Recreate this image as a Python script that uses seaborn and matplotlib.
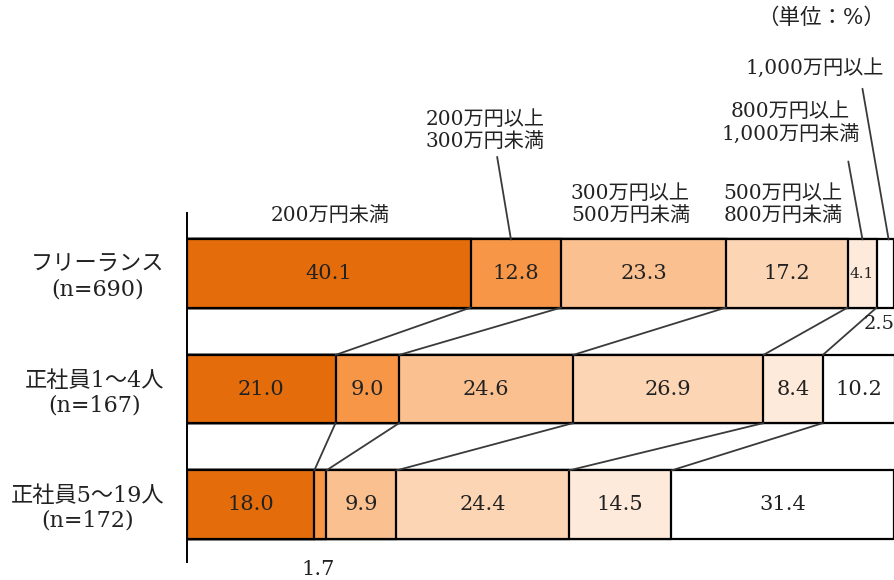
import numpy as np
import pandas as pd
import matplotlib
matplotlib.use("Agg")
import matplotlib.pyplot as plt
import seaborn as sns

sns.set_theme(style="white")
plt.rcParams["font.family"] = ["DejaVu Serif", "Noto Sans CJK JP", "DejaVu Sans"]

groups = ["フリーランス\n(n=690)", "正社員1～4人\n(n=167)", "正社員5～19人\n(n=172)"]
brackets = ["200万円未満", "200万円以上\n300万円未満", "300万円以上\n500万円未満",
            "500万円以上\n800万円未満", "800万円以上\n1,000万円未満", "1,000万円以上"]
freelance = [40.1, 12.8, 23.3, 17.2, 4.1, 2.5]
staff_1_4 = [21.0, 9.0, 24.6, 26.9, 8.4, 10.2]
staff_5_19 = [18.0, 1.7, 9.9, 24.4, 14.5, 31.4]
colors = ["#E46C0A", "#F79646", "#FAC090", "#FCD5B5", "#FDEADA", "#FFFFFF"]

values = np.array([freelance, staff_1_4, staff_5_19])
cum = values.cumsum(axis=1)

fig = plt.figure(figsize=(8.95, 5.8), dpi=100)
ax = fig.add_axes([187 / 895, 18 / 580, 708 / 895, 349 / 580])

BAR_W = 0.59
TXT = "#222222"
# stacked bars: draw cumulative totals from the widest down
for i in range(len(brackets) - 1, -1, -1):
    df = pd.DataFrame({"group": groups, "value": cum[:, i]})
    sns.barplot(data=df, x="value", y="group", orient="h", color=colors[i],
                saturation=1, width=BAR_W, edgecolor="black", linewidth=1.6,
                errorbar=None, ax=ax)

ax.set_xlim(0, 100.1)
ax.set_ylim(2.498, -0.524)
for s in ["top", "right", "bottom"]:
    ax.spines[s].set_visible(False)
ax.spines["left"].set_color("black")
ax.spines["left"].set_linewidth(1.4)
ax.set_xticks([])
ax.set_xlabel("")
ax.set_ylabel("")
ax.tick_params(axis="y", length=0, pad=16, labelsize=16)
for lab in ax.get_yticklabels():
    lab.set_multialignment("center")
    lab.set_linespacing(1.15)
    lab.set_color(TXT)

# connector lines between neighbouring bars
for r in range(len(groups) - 1):
    for i in range(len(brackets) - 1):
        ax.plot([cum[r, i], cum[r + 1, i]], [r + BAR_W / 2, r + 1 - BAR_W / 2],
                color="#3a3a3a", lw=1.3, zorder=1, clip_on=False)

# value labels
for r in range(len(groups)):
    for i in range(len(brackets)):
        v = values[r, i]
        x = cum[r, i] - v / 2
        if r == 0 and i == 5:
            # too narrow: label sits just below the bar's right end
            ax.text(cum[r, i], r + BAR_W / 2 + 0.14, f"{v:.1f}", ha="right", va="center",
                    fontsize=14, color=TXT, clip_on=False)
        elif r == 2 and i == 1:
            ax.text(x - 0.3, r + BAR_W / 2 + 0.27, f"{v:.1f}", ha="center", va="center",
                    fontsize=15, color=TXT, clip_on=False)
        elif v < 5:
            ax.text(x, r, f"{v:.1f}", ha="center", va="center",
                    fontsize=11, color=TXT)
        else:
            ax.text(x, r, f"{v:.1f}", ha="center", va="center",
                    fontsize=15, color=TXT)

# bracket headers above the top bar
top = -BAR_W / 2
hdr = dict(ha="center", va="center", fontsize=14.5, color=TXT,
           linespacing=1.2, clip_on=False)
ax.text(20.2, -0.50, brackets[0], **hdr)
ax.text(42.2, -1.24, brackets[1], **hdr)
ax.text(62.7, -0.60, brackets[2], **hdr)
ax.text(84.3, -0.60, brackets[3], **hdr)
ax.text(85.3, -1.30, brackets[4], **hdr)
ax.text(88.8, -1.78, brackets[5], **hdr)

lead = dict(color="#3a3a3a", lw=1.3, clip_on=False)
ax.plot([43.85, 45.8], [-1.01, top], **lead)
ax.plot([93.5, 95.5], [-0.97, top], **lead)
ax.plot([95.5, 99.2], [-1.60, top], **lead)

fig.text(885 / 895, 1 - 18 / 580, "（単位：%）", ha="right", va="center",
         fontsize=15.5, color=TXT)

fig.savefig("out.png", dpi=100, facecolor="white")
